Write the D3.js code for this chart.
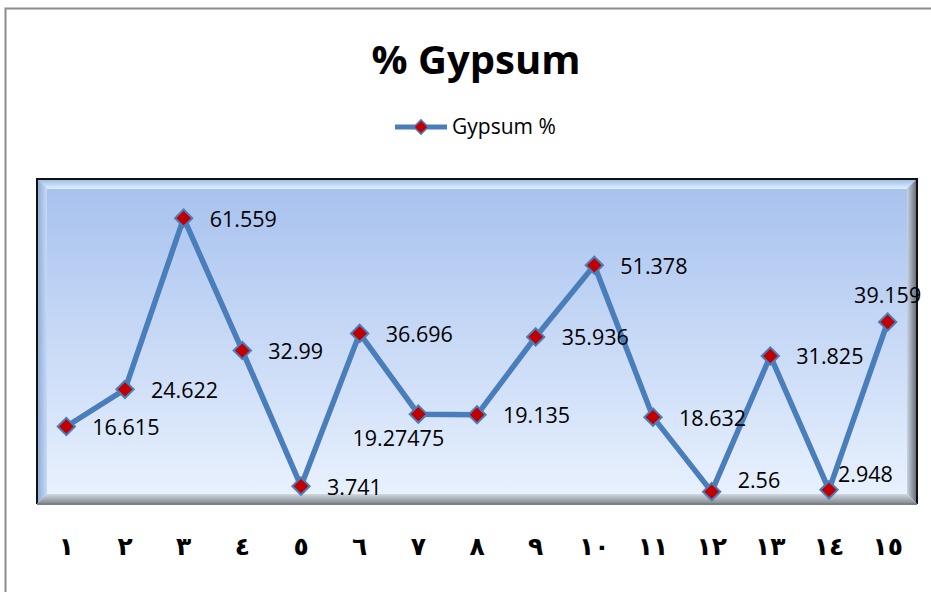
<!DOCTYPE html>
<html>
<head>
<meta charset="utf-8">
<script src="https://cdn.jsdelivr.net/npm/d3@7"></script>
<style>
  body { margin: 0; background: #fff; }
  svg { display: block; }
</style>
</head>
<body>
<script>
// chart values
var categories = ["١", "٢", "٣", "٤", "٥", "٦", "٧", "٨", "٩", "١٠", "١١", "١٢", "١٣", "١٤", "١٥"];
var gypsum = [16.615, 24.622, 61.559, 32.99, 3.741, 36.696, 19.27475, 19.135, 35.936, 51.378, 18.632, 2.56, 31.825, 2.948, 39.159];
var labelPlacement = ["right", "right", "right", "right", "right", "right", "below", "right", "right", "right", "right", "rightup", "right", "upright", "above"];
var seriesName = "Gypsum %";
var chartTitle = "% Gypsum";

var width = 931, height = 592;
var plot = { left: 37, right: 917, top: 179, bottom: 504 };
var bevel = 10;

var svg = d3.select("body").append("svg")
  .attr("width", width)
  .attr("height", height);

var defs = svg.append("defs");

var bg = defs.append("linearGradient").attr("id", "bgGrad")
  .attr("x1", 0).attr("y1", 0).attr("x2", 0).attr("y2", 1);
bg.append("stop").attr("offset", "0%").attr("stop-color", "#a6c1ee");
bg.append("stop").attr("offset", "100%").attr("stop-color", "#eaf2fe");

var rightGrad = defs.append("linearGradient").attr("id", "rightGrad")
  .attr("x1", 0).attr("y1", 0).attr("x2", 1).attr("y2", 0);
rightGrad.append("stop").attr("offset", "0%").attr("stop-color", "#c9d3e2");
rightGrad.append("stop").attr("offset", "100%").attr("stop-color", "#5f6670");

var bottomGrad = defs.append("linearGradient").attr("id", "bottomGrad")
  .attr("x1", 0).attr("y1", 0).attr("x2", 0).attr("y2", 1);
bottomGrad.append("stop").attr("offset", "0%").attr("stop-color", "#d2d8e0");
bottomGrad.append("stop").attr("offset", "100%").attr("stop-color", "#80868e");

var topGrad = defs.append("linearGradient").attr("id", "topGrad")
  .attr("x1", 0).attr("y1", 0).attr("x2", 0).attr("y2", 1);
topGrad.append("stop").attr("offset", "0%").attr("stop-color", "#9ab8e6");
topGrad.append("stop").attr("offset", "100%").attr("stop-color", "#dff2fd");

var leftGrad = defs.append("linearGradient").attr("id", "leftGrad")
  .attr("x1", 0).attr("y1", 0).attr("x2", 1).attr("y2", 0);
leftGrad.append("stop").attr("offset", "0%").attr("stop-color", "#8eaad6");
leftGrad.append("stop").attr("offset", "100%").attr("stop-color", "#c6daf6");

// outer chart border
svg.append("path")
  .attr("d", "M5.5," + height + "V8.5H" + width)
  .attr("fill", "none")
  .attr("stroke", "#8c8c8c")
  .attr("stroke-width", 2);

// plot area with bevel
svg.append("rect")
  .attr("x", plot.left).attr("y", plot.top)
  .attr("width", plot.right - plot.left).attr("height", plot.bottom - plot.top)
  .attr("fill", "url(#bgGrad)");

var L = plot.left, R = plot.right, T = plot.top, B = plot.bottom, b = bevel;
svg.append("polygon")
  .attr("points", [[L, T], [R, T], [R - b, T + b], [L + b, T + b]].join(" "))
  .attr("fill", "url(#topGrad)");
svg.append("polygon")
  .attr("points", [[L, T], [L + b, T + b], [L + b, B - b], [L, B]].join(" "))
  .attr("fill", "url(#leftGrad)");
svg.append("polygon")
  .attr("points", [[R, T], [R, B], [R - b, B - b], [R - b, T + b]].join(" "))
  .attr("fill", "url(#rightGrad)");
svg.append("polygon")
  .attr("points", [[L, B], [L + b, B - b], [R - b, B - b], [R, B]].join(" "))
  .attr("fill", "url(#bottomGrad)");
svg.append("path")
  .attr("d", "M" + L + "," + B + "V" + T + "H" + R + "V" + B)
  .attr("fill", "none")
  .attr("stroke", "#111")
  .attr("stroke-width", 2);
svg.append("line")
  .attr("x1", L).attr("x2", R).attr("y1", B).attr("y2", B)
  .attr("stroke", "#7c7f84").attr("stroke-width", 2);

// scales
var x = d3.scaleBand().domain(categories).range([plot.left, plot.right]);
var y = d3.scaleLinear().domain([0, 70]).range([plot.bottom - 0.5, plot.top]);

var data = categories.map(function(c, i) {
  return { cat: c, value: gypsum[i], place: labelPlacement[i] };
});
var cx = function(d) { return x(d.cat) + x.bandwidth() / 2; };

// title
svg.append("text")
  .attr("x", 476).attr("y", 74)
  .attr("text-anchor", "middle")
  .style("font-family", "'Open Sans', sans-serif")
  .style("font-weight", "bold")
  .style("font-size", "40px")
  .text(chartTitle);

// legend
var legend = svg.append("g").attr("transform", "translate(395,127)");
legend.append("line")
  .attr("x1", 0).attr("x2", 52)
  .attr("stroke", "#4a7ebb").attr("stroke-width", 5);
legend.append("path")
  .attr("d", d3.symbol(d3.symbolDiamond2, 130)())
  .attr("transform", "translate(26,0)")
  .attr("fill", "#c00000").attr("stroke", "#4a7ebb").attr("stroke-width", 1.5);
legend.append("text")
  .attr("x", 57).attr("y", 0).attr("dy", "0.35em")
  .style("font-family", "'Open Sans', sans-serif")
  .style("font-size", "21px")
  .text(seriesName);

// x axis labels
var xAxis = d3.axisBottom(x).tickSize(0).tickPadding(0);
var gx = svg.append("g")
  .attr("transform", "translate(0,537)")
  .call(xAxis);
gx.select(".domain").remove();
gx.selectAll("text")
  .attr("dy", "0.71em")
  .style("font-family", "'DejaVu Sans', sans-serif")
  .style("font-weight", "bold")
  .style("font-size", "25px")
  .style("letter-spacing", "7px")
  .attr("fill", "#000");

// series line
var line = d3.line().x(cx).y(function(d) { return y(d.value); });
svg.append("path")
  .datum(data)
  .attr("d", line)
  .attr("fill", "none")
  .attr("stroke", "#4a7ebb")
  .attr("stroke-width", 5.5)
  .attr("stroke-linejoin", "round");

// markers
svg.selectAll(".marker")
  .data(data)
  .enter().append("path")
  .attr("class", "marker")
  .attr("d", d3.symbol(d3.symbolDiamond2, 190)())
  .attr("transform", function(d) { return "translate(" + cx(d) + "," + y(d.value) + ")"; })
  .attr("fill", "#c00000")
  .attr("stroke", "#4a7ebb")
  .attr("stroke-width", 2);

// data labels
svg.selectAll(".dlabel")
  .data(data)
  .enter().append("text")
  .attr("class", "dlabel")
  .attr("x", function(d) {
    if (d.place === "right" || d.place === "rightup") return cx(d) + 26;
    if (d.place === "upright") return cx(d) + 9;
    if (d.place === "below") return cx(d) - 20;
    return cx(d);
  })
  .attr("y", function(d) {
    var py = y(d.value);
    if (d.place === "above") return py - 26;
    if (d.place === "below") return py + 24;
    if (d.place === "upright") return py - 15;
    if (d.place === "rightup") return py - 11;
    return py + 1;
  })
  .attr("dy", "0.35em")
  .attr("text-anchor", function(d) {
    return (d.place === "above" || d.place === "below") ? "middle" : "start";
  })
  .style("font-family", "'Open Sans', sans-serif")
  .style("font-size", "21.5px")
  .attr("fill", "#000")
  .text(function(d) { return d.value; });
</script>
</body>
</html>
